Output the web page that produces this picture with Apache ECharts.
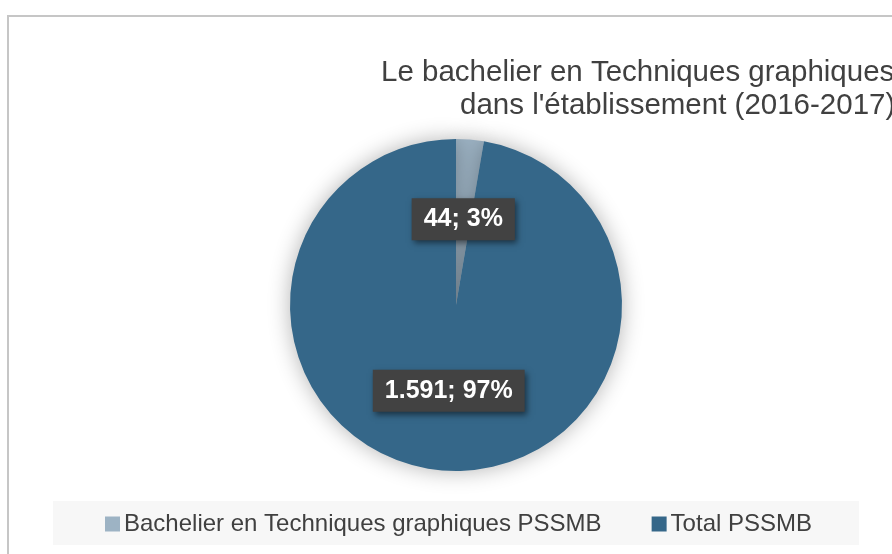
<!DOCTYPE html>
<html>
<head>
<meta charset="utf-8">
<script src="https://cdn.jsdelivr.net/npm/echarts@6/dist/echarts.min.js"></script>
<style>
  html, body { margin: 0; padding: 0; background: #fff; }
  #main { width: 892px; height: 554px; }
</style>
</head>
<body>
<div id="main"></div>
<script>
// categories and values
var categories = ['Bachelier en Techniques graphiques PSSMB', 'Total PSSMB'];
var values = [44, 1591];
var colors = ['#9db3c4', '#356789'];
var titleLines = ['Le bachelier en Techniques graphiques', "dans l'établissement (2016-2017)"];

var chart = echarts.init(document.getElementById('main'));

// 1591 -> "1.591"
function fmtNum(v) {
  return String(v).replace(/\B(?=(\d{3})+(?!\d))/g, '.');
}

var pieData = [];
for (var i = 0; i < categories.length; i++) {
  pieData.push({
    name: categories[i],
    value: values[i],
    itemStyle: { color: colors[i] }
  });
}

var option = {
  animation: false,
  textStyle: { fontFamily: 'Liberation Sans, Arial, sans-serif' },
  title: [
    {
      text: titleLines[0],
      left: 381, top: 58, padding: 0,
      textStyle: { fontSize: 29.5, fontWeight: 'normal', color: '#404040', fontFamily: 'Liberation Sans' }
    },
    {
      text: titleLines[1],
      left: 460, top: 91, padding: 0,
      textStyle: { fontSize: 29.5, fontWeight: 'normal', color: '#404040', fontFamily: 'Liberation Sans' }
    }
  ],
  graphic: [
    {
      type: 'rect', silent: true, z: -10,
      shape: { x: 8, y: 16, width: 1000, height: 1000 },
      style: { fill: 'none', stroke: '#c6c6c6', lineWidth: 2 }
    },
    {
      type: 'rect', silent: true, z: -5,
      shape: { x: 53, y: 501, width: 806, height: 44 },
      style: { fill: '#f7f7f7' }
    }
  ],
  legend: {
    data: categories,
    left: 100, top: 507,
    icon: 'rect',
    itemWidth: 15, itemHeight: 15,
    itemGap: 50,
    selectedMode: false,
    textStyle: { fontSize: 24, color: '#404040', fontFamily: 'Liberation Sans', padding: [0, 0, 0, -1] }
  },
  series: [
    {
      type: 'pie',
      center: [456, 305],
      radius: 166,
      startAngle: 90,
      clockwise: true,
      avoidLabelOverlap: false,
      silent: true,
      data: pieData,
      itemStyle: {
        borderWidth: 0,
        shadowBlur: 22,
        shadowColor: 'rgba(0,0,0,0.3)'
      },
      label: {
        show: true,
        position: 'inside',
        formatter: function (p) {
          return fmtNum(p.value) + '; ' + Math.round(p.percent) + '%';
        },
        color: '#ffffff',
        fontSize: 25,
        fontWeight: 'bold',
        fontFamily: 'Liberation Sans',
        backgroundColor: '#424242',
        padding: [9, 12, 8, 12],
        shadowBlur: 6,
        shadowOffsetX: 2,
        shadowOffsetY: 3,
        shadowColor: 'rgba(0,0,0,0.5)'
      },
      labelLine: { show: false }
    }
  ]
};

chart.setOption(option);
</script>
</body>
</html>
